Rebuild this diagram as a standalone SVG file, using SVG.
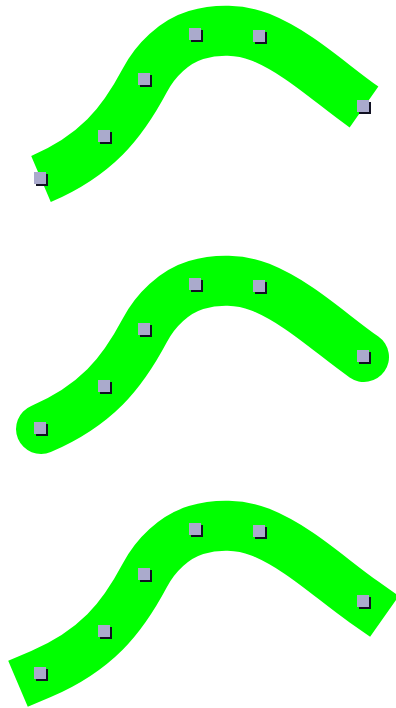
<svg xmlns="http://www.w3.org/2000/svg" xmlns:xlink="http://www.w3.org/1999/xlink" width="396" height="708" viewBox="0 0 396 708">
<style>
.band{fill:none;stroke:#00ff00;stroke-width:50;stroke-linejoin:round}
.sq{fill:#aaaacc}
.sh{fill:#111122}
</style>
<defs>
<path id="curve" d="M41,179 C64.5,169 87,155 105,137 C121.4,120.6 134.1,100.5 145,80 C155.6,60 174.3,41.6 196,35 C216.4,28.8 240.3,29 260,37 C298.8,52.7 329.8,83 364,107"/>
<g id="pt"><rect class="sh" x="-5" y="-5" width="12" height="12"/><rect class="sq" x="-7" y="-7" width="12" height="12"/></g>
<g id="pts">
<use xlink:href="#pt" x="41" y="179"/>
<use xlink:href="#pt" x="105" y="137"/>
<use xlink:href="#pt" x="145" y="80"/>
<use xlink:href="#pt" x="196" y="35"/>
<use xlink:href="#pt" x="260" y="37"/>
<use xlink:href="#pt" x="364" y="107"/>
</g>
</defs>
<g id="butt"><use xlink:href="#curve" class="band" style="stroke-linecap:butt"/><use xlink:href="#pts"/></g>
<g id="round" transform="translate(0,250)"><use xlink:href="#curve" class="band" style="stroke-linecap:round"/><use xlink:href="#pts"/></g>
<g id="square" transform="translate(0,495)"><use xlink:href="#curve" class="band" style="stroke-linecap:square"/><use xlink:href="#pts"/></g>
</svg>
